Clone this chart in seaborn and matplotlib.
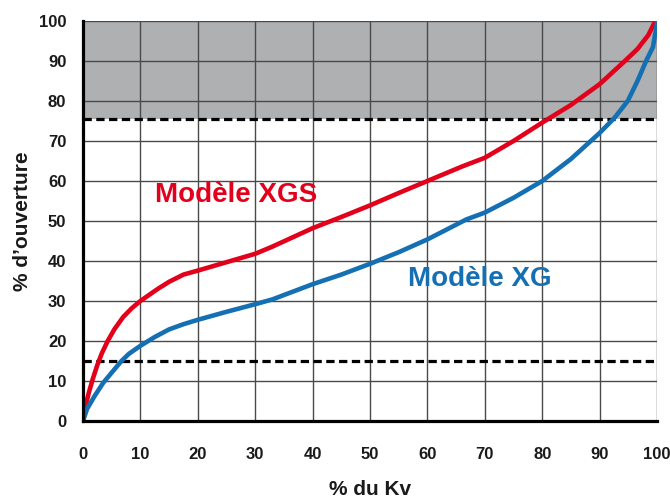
import numpy as np
import pandas as pd
import matplotlib
matplotlib.use("Agg")
import matplotlib.pyplot as plt
import seaborn as sns

# values
xgs_kv = [0, 0.4, 1, 1.7, 2.5, 3.3, 4.3, 5.5, 7, 8.5, 10, 13, 15, 17.5, 20, 25, 30, 33, 40, 45, 50, 55, 60,
          66, 70, 75, 80, 85, 90, 94.4, 96.6, 98.5, 99.7]
xgs_open = [0, 3.5, 7, 10.5, 14, 17, 20, 23, 26, 28.2, 30, 33, 34.8, 36.6, 37.6, 39.7, 41.8, 43.6, 48.2, 51, 53.9, 57, 60,
            63.6, 65.8, 70, 74.6, 79, 84.2, 90, 93, 96.5, 100]

xg_kv = [0, 0.7, 2, 3.5, 5, 6.7, 8, 10, 12.5, 15, 17.5, 20, 25, 30, 33, 40, 45, 50, 55, 60,
         66.8, 70, 75, 80, 85, 90, 92.6, 94.9, 96.6, 98.1, 99.3, 100]
xg_open = [0, 3, 6.2, 9.5, 12.1, 15, 16.8, 18.8, 21, 22.9, 24.2, 25.3, 27.3, 29.2, 30.4, 34.2, 36.6, 39.3, 42.2, 45.4,
           50.4, 52.1, 55.8, 60, 65.5, 72, 75.8, 80, 85, 90, 93.5, 99.5]

ticks = list(range(0, 101, 10))
zone_low = 75.5
limit_high = 75.5
limit_low = 15

red = "#e3001b"
blue = "#1570b3"

sns.set_style("white")
plt.rcParams['font.family'] = ['Liberation Sans', 'DejaVu Sans']

fig = plt.figure(figsize=(6.7, 5.0), dpi=100)
ax = fig.add_axes([83 / 670, 1 - 421 / 500, 574 / 670, 400 / 500])

ax.axhspan(zone_low, 100, color="#aeb0b2", zorder=0, lw=0)

xgs = pd.DataFrame({"kv": xgs_kv, "ouv": xgs_open})
xg = pd.DataFrame({"kv": xg_kv, "ouv": xg_open})
sns.lineplot(data=xgs, x="kv", y="ouv", color=red, lw=3.3, ax=ax, zorder=4,
             solid_capstyle="round", solid_joinstyle="round")
sns.lineplot(data=xg, x="kv", y="ouv", color=blue, lw=3.3, ax=ax, zorder=4,
             solid_capstyle="round", solid_joinstyle="round")

for yv in [limit_high, limit_low]:
    ln = ax.axhline(yv, color="black", lw=2.3, zorder=3)
    ln.set_dashes((2.6, 1.4))

ax.set_xlim(0, 100)
ax.set_ylim(0, 100)
ax.set_xticks(ticks)
ax.set_yticks(ticks)
ax.grid(True, color="#4a4a4a", lw=1.0, zorder=1)
ax.set_axisbelow(True)

for s in ["top", "right"]:
    ax.spines[s].set_visible(False)
for s in ["left", "bottom"]:
    ax.spines[s].set_color("black")
    ax.spines[s].set_linewidth(2.3)
    ax.spines[s].set_zorder(5)

ax.tick_params(axis="x", length=9, width=1.0, color="#4a4a4a", pad=10, labelsize=12)
ax.tick_params(axis="y", length=7, width=1.0, color="#4a4a4a", pad=5, labelsize=12)
for lab in ax.get_xticklabels() + ax.get_yticklabels():
    lab.set_fontweight("bold")
    lab.set_color("#1a1a1a")

ax.set_xlabel("% du Kv", fontsize=15, fontweight="bold", color="#1a1a1a")
ax.set_ylabel("% d’ouverture", fontsize=15, fontweight="bold", color="#1a1a1a")
ax.xaxis.set_label_coords(0.5, -0.148)
ax.yaxis.set_label_coords(-0.089, 0.5)

ax.text(12.6, 56.5, "Modèle XGS", color=red, fontsize=20, fontweight="bold",
        ha="left", va="center", zorder=6)
ax.text(56.7, 35.5, "Modèle XG", color=blue, fontsize=20, fontweight="bold",
        ha="left", va="center", zorder=6)

fig.savefig("out.png", dpi=100)
